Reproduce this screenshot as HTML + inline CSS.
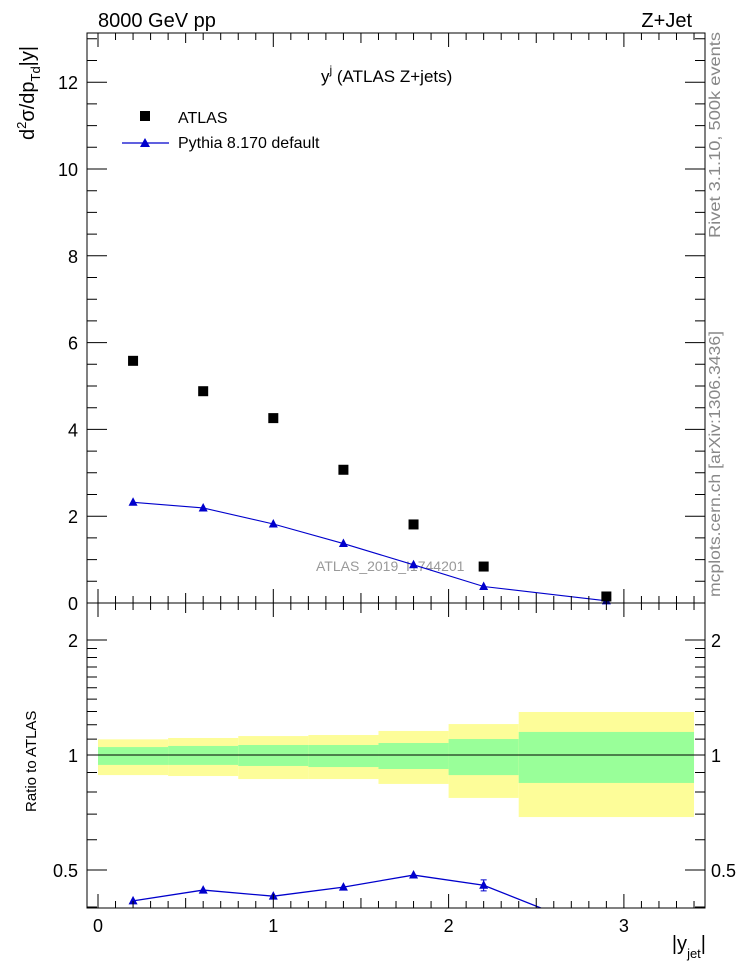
<!DOCTYPE html>
<html><head><meta charset="utf-8"><style>
body{margin:0;background:#fff}
svg{display:block;font-family:"Liberation Sans",sans-serif}
</style></head><body>
<svg id="c" width="746" height="972" viewBox="0 0 746 972" xmlns="http://www.w3.org/2000/svg">
<text x="98" y="27" font-size="20">8000 GeV pp</text>
<text x="692" y="27" font-size="20" text-anchor="end">Z+Jet</text>
<text x="321" y="82" font-size="17">y<tspan font-size="12" dy="-8">j</tspan><tspan dy="8"> (ATLAS Z+jets)</tspan></text>
<text transform="translate(720,238) rotate(-90)" font-size="16" fill="#888" textLength="206" lengthAdjust="spacingAndGlyphs">Rivet 3.1.10, 500k events</text>
<text transform="translate(720,597) rotate(-90)" font-size="16" fill="#888" textLength="266" lengthAdjust="spacingAndGlyphs">mcplots.cern.ch [arXiv:1306.3436]</text>
<text x="316" y="571" font-size="14" fill="#999">ATLAS_2019_I1744201</text>
<text transform="translate(34,140) rotate(-90)" font-size="20">d<tspan font-size="13" dy="-8">2</tspan><tspan dy="8">σ/dp</tspan><tspan font-size="13" dy="6">Td</tspan><tspan dy="-6">|y|</tspan></text>
<text transform="translate(36,812) rotate(-90)" font-size="15">Ratio to ATLAS</text>
<text x="706" y="950" font-size="20" text-anchor="end">|y<tspan font-size="13" dy="8">jet</tspan><tspan dy="-8">|</tspan></text>
<g>
<rect x="140" y="111" width="10" height="10" fill="#000"/>
<text x="178" y="123" font-size="16">ATLAS</text>
<line x1="122" y1="143" x2="169" y2="143" stroke="#00c" stroke-width="1.3"/>
<path d="M145,138 L150,147 L140,147 Z" fill="#00c"/>
<text x="178" y="148" font-size="16">Pythia 8.170 default</text>
</g>
<g id="main"></g><g id="ratio"></g><g id="axes"></g>
</svg>
<script>
const xVals=[0.2,0.6,1.0,1.4,1.8,2.2,2.9];
const atlasVals=[5.58,4.88,4.26,3.07,1.81,0.84,0.15];
const pythiaVals=[2.32,2.19,1.82,1.37,0.88,0.38,0.05];
const ratioVals=[0.415,0.443,0.427,0.451,0.485,0.456,0.34];
const ratioErr=[0.005,0.005,0.005,0.005,0.006,0.015,0.02];
const binEdges=[0,0.4,0.8,1.2,1.6,2.0,2.4,3.4];
const yellowHi=[1.099,1.108,1.121,1.128,1.156,1.205,1.296];
const yellowLo=[0.886,0.881,0.865,0.865,0.840,0.772,0.688];
const greenHi=[1.049,1.056,1.062,1.062,1.075,1.101,1.149];
const greenLo=[0.942,0.942,0.936,0.930,0.919,0.886,0.845];
const mainTicks=[0,2,4,6,8,10,12];
const ratioTicks=[0.5,1,2];
const xTicks=[0,1,2,3];

const NS="http://www.w3.org/2000/svg";
const L=87,R=705,MT=33,MB=603,RT=603,RB=908;
const X=v=>98+v*175.3;
const YM=v=>603-v*43.4;
const YR=v=>755-Math.log2(v)*115;
function mk(tag,attrs,parent){const e=document.createElementNS(NS,tag);for(const k in attrs)e.setAttribute(k,attrs[k]);parent.appendChild(e);return e;}
const main=document.getElementById('main'),ratio=document.getElementById('ratio'),axes=document.getElementById('axes');

for(let i=0;i<binEdges.length-1;i++){
 const x1=X(binEdges[i]),x2=X(binEdges[i+1]);
 let e=mk('rect',{x:x1,y:YR(yellowHi[i]),width:x2-x1,height:YR(yellowLo[i])-YR(yellowHi[i]),fill:'#fdfd99'},ratio);
 
 
 e=mk('rect',{x:x1,y:YR(greenHi[i]),width:x2-x1,height:YR(greenLo[i])-YR(greenHi[i]),fill:'#99ff99'},ratio);
 
 
}
let ref=mk('line',{x1:X(0),x2:X(3.4),y1:YR(1),y2:YR(1),stroke:'#000','stroke-width':1},ratio);



const defs=mk('defs',{},document.getElementById('c'));
const cp=mk('clipPath',{id:'rc'},defs);mk('rect',{x:L,y:RT,width:R-L,height:RB-RT},cp);
const rg=mk('g',{'clip-path':'url(#rc)'},ratio);
let rp=mk('polyline',{points:xVals.map((x,i)=>X(x)+','+YR(ratioVals[i])).join(' '),fill:'none',stroke:'#00c','stroke-width':1.3},rg);


xVals.forEach((x,i)=>{
 const cx=X(x),cy=YR(ratioVals[i]);
 if(ratioErr[i]>0.008){const el=mk('path',{d:`M${cx},${YR(ratioVals[i]+ratioErr[i])}V${YR(ratioVals[i]-ratioErr[i])}M${cx-3},${YR(ratioVals[i]+ratioErr[i])}h6M${cx-3},${YR(ratioVals[i]-ratioErr[i])}h6`,stroke:'#00c',fill:'none'},rg);
 
 }
 const t=mk('path',{d:`M${cx},${cy-5}L${cx+4.5},${cy+3.5}L${cx-4.5},${cy+3.5}Z`,fill:'#00c'},rg);
 
 
});

let pl=mk('polyline',{points:xVals.map((x,i)=>X(x)+','+YM(pythiaVals[i])).join(' '),fill:'none',stroke:'#00c','stroke-width':1.1},main);


xVals.forEach((x,i)=>{
 const cx=X(x),cy=YM(pythiaVals[i]);
 const t=mk('path',{d:`M${cx},${cy-5}L${cx+4.5},${cy+3.5}L${cx-4.5},${cy+3.5}Z`,fill:'#00c'},main);
 
 
 const s=mk('rect',{x:cx-5,y:YM(atlasVals[i])-5,width:10,height:10,fill:'#000'},main);
 
 
});

let f=mk('rect',{x:L,y:MT,width:R-L,height:MB-MT,fill:'none',stroke:'#000','stroke-width':1},axes);

f=mk('rect',{x:L,y:RT,width:R-L,height:RB-RT,fill:'none',stroke:'#000','stroke-width':1},axes);

let d='';
for(let k=0;k<=34;k++){const v=k/10,x=X(v);const len=k%10==0?14:(k%5==0?10:7);
 d+=`M${x},${MB}v${-len}M${x},${MT}v${len}M${x},${RB}v${-len}M${x},${RT}v${len}`;}
for(let k=0;k<=26;k++){const v=k*0.5,y=YM(v);if(y<MT)continue;const len=k%4==0?20:10;
 d+=`M${L},${y}h${len}M${R},${y}h${-len}`;}
const rminor=[0.4,0.6,0.7,0.8,0.9,1.1,1.2,1.3,1.4,1.5,1.6,1.7,1.8,1.9];
rminor.forEach(v=>{const y=YR(v);if(y>RB||y<RT)return;d+=`M${L},${y}h10M${R},${y}h-10`;});
ratioTicks.forEach(v=>{const y=YR(v);d+=`M${L},${y}h20M${R},${y}h-20`;});
f=mk('path',{d:d,stroke:'#000','stroke-width':1,fill:'none'},axes);

xTicks.forEach(v=>{const t=mk('text',{x:X(v),y:932,'font-size':18,'text-anchor':'middle'},axes);t.textContent=v;
 
 });
mainTicks.forEach(v=>{const t=mk('text',{x:78,y:YM(v)+7,'font-size':18,'text-anchor':'end'},axes);t.textContent=v;
 
 });
ratioTicks.forEach(v=>{const t=mk('text',{x:78,y:YR(v)+7,'font-size':18,'text-anchor':'end'},axes);t.textContent=v;
 
 
 const t2=mk('text',{x:711,y:YR(v)+7,'font-size':18},axes);t2.textContent=v;
 
 });
</script>
</body></html>
